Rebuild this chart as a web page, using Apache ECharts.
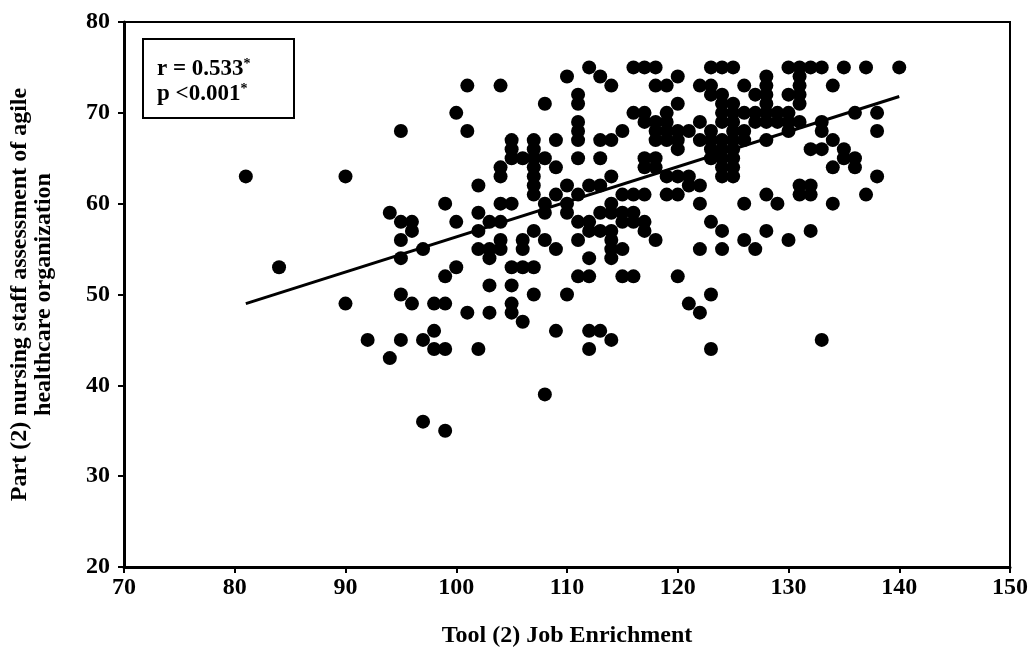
<!DOCTYPE html>
<html>
<head>
<meta charset="utf-8">
<title>Job Enrichment vs agile assessment</title>
<script src="https://cdn.jsdelivr.net/npm/echarts@6/dist/echarts.min.js"></script>
<style>
  html, body { margin: 0; padding: 0; background: #fff; }
  #main { width: 1031px; height: 653px; }
</style>
</head>
<body>
<div id="main"></div>
<script>
// Tool (2) Job Enrichment score of each nurse
var jobEnrichment = [
  81, 90, 84, 90, 94, 95, 96, 96, 95, 95, 97, 99, 100, 102, 102, 102, 102, 100, 99, 95,
  96, 98, 99, 101, 92, 95, 97, 98, 98, 99, 102, 94, 97, 99,
  101, 104, 108, 100, 95, 101, 105, 107, 109, 105, 105, 106, 107, 107, 107, 107, 107, 107, 108, 109,
  104, 104, 109, 108, 108, 104, 105, 103, 104, 107, 103, 104, 104, 106, 106, 108, 109,
  103, 105, 106, 107, 103, 105, 107, 103, 105, 105, 106, 109, 108,
  112, 116, 117, 118, 123, 110, 113, 114, 120, 118, 119, 122, 123, 111, 111, 120, 116, 117, 119, 111,
  117, 118, 119, 122, 111, 111, 115, 118, 119, 120, 121, 118, 119, 120, 113, 114, 122, 123, 120, 111,
  113, 117, 118, 117, 118, 123, 119, 120, 121, 114, 110, 112, 113, 115, 116, 117, 119, 120, 121, 122,
  122, 111, 110, 110, 113, 114, 114, 115, 116, 111, 112, 115, 116, 117, 113, 114, 123, 111, 114, 118,
  112, 114, 115, 112, 114, 117, 122, 124, 111, 112, 115, 116, 120, 110, 121, 122, 123, 112, 113, 114,
  112, 123,
  124, 125, 130, 131, 132, 133, 135, 128, 131, 123, 126, 128, 131, 134, 124, 127, 128, 130, 131, 124,
  125, 128, 131, 124, 125, 126, 127, 128, 129, 130, 136, 124, 125, 127, 128, 129, 130, 131, 133, 123,
  125, 126, 130, 133, 124, 125, 126, 128, 134, 123, 124, 125, 132, 133, 135, 124, 125, 135, 136, 124,
  125, 134, 136, 124, 125, 131, 132, 131, 132, 128, 129, 126, 134, 124, 128, 132, 126, 130,
  127, 133, 137, 140, 138, 138, 138, 137
];
// Part (2) nursing staff assessment of agile healthcare organization
var agileAssessment = [
  63, 63, 53, 49, 59, 58, 58, 57, 56, 54, 55, 60, 58, 62, 59, 57, 55, 53, 52, 50,
  49, 49, 49, 48, 45, 45, 45, 46, 44, 44, 44, 43, 36, 35,
  73, 73, 71, 70, 68, 68, 67, 67, 67, 66, 65, 65, 66, 65, 64, 63, 62, 61, 65, 64,
  64, 63, 61, 60, 59, 60, 60, 58, 58, 57, 55, 55, 56, 56, 55, 56, 55,
  54, 53, 53, 53, 51, 51, 50, 48, 49, 48, 47, 46, 39,
  75, 75, 75, 75, 75, 74, 74, 73, 74, 73, 73, 73, 72, 72, 71, 71, 70, 70, 70, 69,
  69, 69, 69, 69, 68, 67, 68, 68, 68, 68, 68, 67, 67, 67, 67, 67, 67, 67, 66, 65,
  65, 65, 65, 64, 64, 65, 63, 63, 63, 63, 62, 62, 62, 61, 61, 61, 61, 61, 62, 62,
  60, 61, 60, 59, 59, 60, 59, 59, 59, 58, 58, 58, 58, 58, 57, 57, 58, 56, 56, 56,
  57, 55, 55, 54, 54, 57, 55, 55, 52, 52, 52, 52, 52, 50, 49, 48, 50, 46, 46, 45,
  44, 44,
  75, 75, 75, 75, 75, 75, 75, 74, 74, 73, 73, 73, 73, 73, 72, 72, 72, 72, 72, 71,
  71, 71, 71, 70, 70, 70, 70, 70, 70, 70, 70, 69, 69, 69, 69, 69, 69, 69, 69, 68,
  68, 68, 68, 68, 67, 67, 67, 67, 67, 66, 66, 66, 66, 66, 66, 65, 65, 65, 65, 64,
  64, 64, 64, 63, 63, 62, 62, 61, 61, 61, 60, 60, 60, 57, 57, 57, 56, 56,
  55, 45, 75, 75, 70, 68, 63, 61
];

// fitted line as drawn in the figure
var trendX = [81, 140];
var trendY = [49.0, 71.8];

var xTicks = [70, 150, 10];
var yTicks = [20, 80, 10];

var points = [];
for (var i = 0; i < jobEnrichment.length; i++) {
  points.push([jobEnrichment[i], agileAssessment[i]]);
}
var trend = [];
for (var j = 0; j < trendX.length; j++) {
  trend.push([trendX[j], trendY[j]]);
}

var serif = '"Liberation Serif", "Times New Roman", serif';

var myChart = echarts.init(document.getElementById('main'));
var option = {
  backgroundColor: '#fff',
  animation: false,
  grid: {
    left: 122, top: 22, right: 21, bottom: 84,
    show: true, borderColor: '#000', borderWidth: 2
  },
  xAxis: {
    type: 'value',
    min: xTicks[0], max: xTicks[1], interval: xTicks[2],
    name: 'Tool (2) Job Enrichment',
    nameLocation: 'middle',
    nameGap: 57,
    nameTextStyle: { color: '#000', fontFamily: serif, fontWeight: 'bold', fontSize: 24 },
    axisLine: { lineStyle: { color: '#000', width: 3 } },
    axisTick: { inside: false, length: 6, lineStyle: { color: '#000', width: 2 } },
    axisLabel: { color: '#000', fontFamily: serif, fontWeight: 'bold', fontSize: 24, margin: 9 },
    splitLine: { show: false }
  },
  yAxis: {
    type: 'value',
    min: yTicks[0], max: yTicks[1], interval: yTicks[2],
    name: 'Part (2) nursing staff assessment of agile\nhealthcare organization',
    nameLocation: 'middle',
    nameRotate: 90,
    nameGap: 68,
    nameTextStyle: { color: '#000', fontFamily: serif, fontWeight: 'bold', fontSize: 24, lineHeight: 24 },
    axisLine: { lineStyle: { color: '#000', width: 3 } },
    axisTick: { inside: false, length: 6, lineStyle: { color: '#000', width: 2 } },
    axisLabel: { color: '#000', fontFamily: serif, fontWeight: 'bold', fontSize: 24, margin: 14 },
    splitLine: { show: false }
  },
  series: [
    {
      name: 'nurses',
      type: 'scatter',
      symbol: 'circle',
      symbolSize: 14,
      itemStyle: { color: '#000', opacity: 1 },
      data: points,
      z: 2
    },
    {
      name: 'fit',
      type: 'line',
      data: trend,
      symbol: 'none',
      lineStyle: { color: '#000', width: 3 },
      z: 3
    }
  ],
  graphic: [
    {
      type: 'rect',
      shape: { x: 143, y: 39, width: 151, height: 79 },
      style: { fill: '#fff', stroke: '#000', lineWidth: 2 },
      z: 10
    },
    {
      type: 'text',
      left: 157, top: 57,
      z: 11,
      style: {
        text: '{b|r = 0.533}{s|*}\n{b|p <0.001}{s|*}',
        rich: {
          b: { fontFamily: serif, fontWeight: 'bold', fontSize: 23, fill: '#000', lineHeight: 25 },
          s: { fontFamily: serif, fontWeight: 'bold', fontSize: 14, fill: '#000', padding: [0, 0, 10, 0], lineHeight: 25 }
        }
      }
    }
  ]
};
myChart.setOption(option);
</script>
</body>
</html>
